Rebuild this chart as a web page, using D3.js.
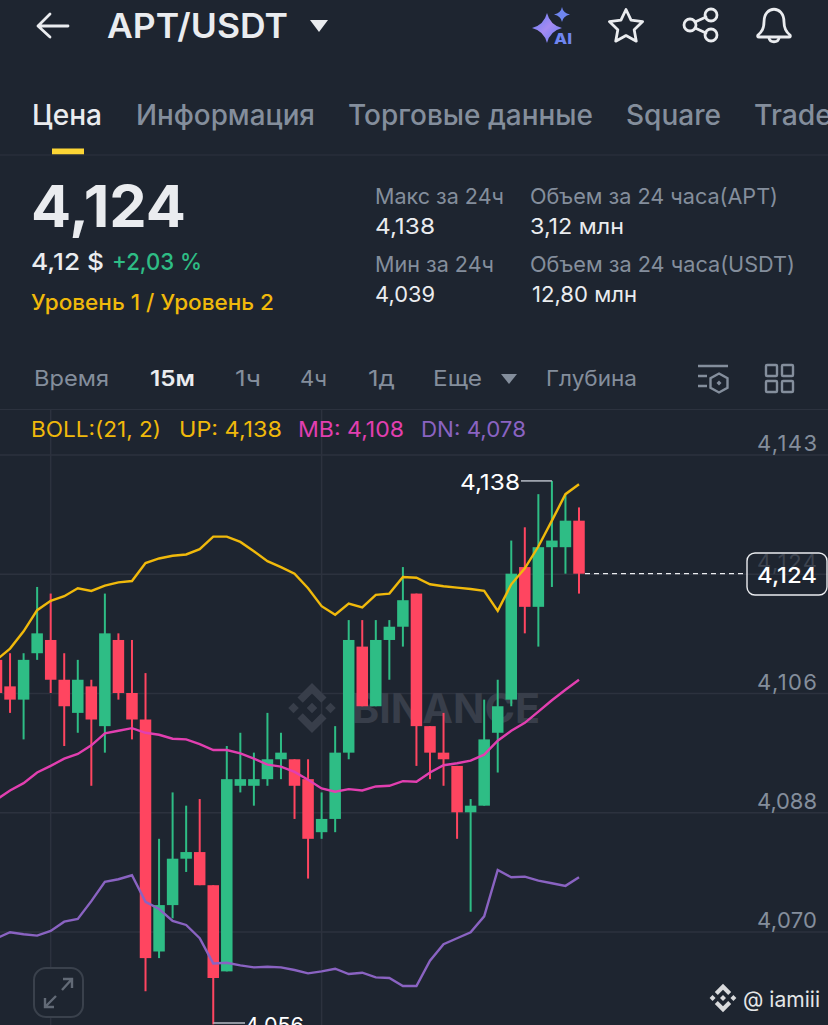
<!DOCTYPE html>
<html>
<head>
<meta charset="utf-8">
<script src="https://cdn.jsdelivr.net/npm/d3@7"></script>
<style>
  html, body { margin: 0; padding: 0; background: #1e2530; overflow: hidden; }
  svg { display: block; font-family: Inter, "Noto Sans", sans-serif; }
</style>
</head>
<body>
<div id="chart"></div>
<script>
// candles, in thousandths
var opens  = [4111,4107,4105,4112,4114,4108,4103,4107,4101,4114,4106,4102,4067,4074,4081,4082,4077,4064,4092,4092,4093,4096,
              4096,4093,4085,4087,4097,4113,4104,4114,4116,4121,4101,4097,4095,4088,4089,4100,4105,4125,4119,4128,4128,4132];
var closes = [4106,4105,4111,4115,4108,4104,4108,4102,4115,4106,4102,4066,4074,4081,4082,4077,4063,4093,4093,4093,4096,4097,
              4092,4084,4087,4097,4114,4104,4114,4116,4120,4101,4097,4096,4088,4089,4099,4104,4124,4119,4128,4129,4132,4124];
var highs  = [4112,4112,4112,4122,4121,4112,4111,4108,4121,4115,4114,4109,4084,4091,4089,4090,4077,4098,4100,4097,4103,4100,
              4096,4096,4091,4101,4117,4117,4117,4117,4125,4121,4101,4103,4095,4090,4105,4108,4129,4131,4136,4138,4136,4134];
var lows   = [4105,4103,4099,4111,4106,4098,4100,4092,4097,4105,4099,4061,4066,4072,4079,4077,4056,4064,4091,4089,4092,4093,
              4087,4078,4084,4085,4096,4104,4104,4108,4113,4095,4093,4092,4084,4073,4089,4094,4104,4115,4113,4122,4124,4121];

// bollinger bands
var bollUp = [4111.0,4112.7,4115.3,4118.5,4119.9,4120.6,4121.8,4121.4,4122.2,4122.7,4122.9,4125.6,4126.3,4126.7,4126.9,4127.7,4129.6,4129.6,4128.8,4127.4,4125.9,4125.0,
              4124.0,4121.8,4119.1,4117.8,4119.5,4118.9,4120.8,4121.0,4123.5,4123.4,4122.4,4122.1,4121.9,4121.7,4121.4,4118.4,4122.4,4124.8,4128.1,4132.0,4136.0,4137.5];
var bollMb = [4089.9,4091.3,4092.4,4094.0,4095.0,4096.1,4096.8,4098.1,4099.9,4100.3,4100.7,4100.0,4099.7,4099.1,4099.0,4098.3,4097.4,4097.4,4096.9,4096.1,4095.2,4094.9,
              4094.1,4092.9,4091.6,4091.1,4091.5,4091.3,4091.9,4092.0,4092.7,4092.6,4094.0,4095.1,4095.4,4095.8,4096.7,4098.8,4100.3,4101.5,4103.2,4104.9,4106.5,4108.0];
var bollDn = [4069.0,4069.9,4069.6,4069.4,4070.1,4071.5,4071.9,4074.6,4077.5,4077.9,4078.5,4074.5,4073.4,4071.6,4071.0,4069.0,4065.2,4065.3,4064.9,4064.6,4064.7,4064.6,
              4064.2,4063.7,4064.0,4064.4,4063.6,4063.8,4063.1,4063.0,4061.8,4061.8,4065.6,4068.1,4069.0,4069.9,4072.3,4079.3,4078.2,4078.3,4077.7,4077.3,4076.9,4078.2];

// price axis
var gridPrices = [4142, 4124, 4106, 4088, 4070];
var gridLabels = ["4,143", "4,124", "4,106", "4,088", "4,070"];
var lastPrice = 4124, lastLabel = "4,124";
var highIndex = 41, highLabel = "4,138";
var lowIndex = 16, lowLabel = "4,056";

var width = 828, height = 1025;
var bg = "#1e2530", gridColor = "#2c323e", grey = "#848e9c", light = "#eaecef",
    yellow = "#f0b90b", green = "#2ebd85", red = "#ff4560", pink = "#e23fb0", purple = "#8a63c2";

var svg = d3.select("#chart").append("svg")
    .attr("width", width)
    .attr("height", height);

var x = d3.scaleLinear().domain([0, opens.length - 1]).range([-3.5, 579]);
var y = d3.scaleLinear().domain([4124, 4088]).range([573.7, 812.3]);
var bodyWidth = 11.5;

// text helper, w forces the width seen in the reference
function label(px, py, str, size, color, weight, w) {
    var t = svg.append("text")
        .attr("x", px).attr("y", py)
        .attr("font-size", size)
        .attr("font-weight", weight || 400)
        .attr("fill", color)
        .text(str);
    if (w) t.attr("textLength", w).attr("lengthAdjust", "spacingAndGlyphs");
    return t;
}

function rule(x1, y1, x2, y2, color, sw) {
    return svg.append("line")
        .attr("x1", x1).attr("y1", y1).attr("x2", x2).attr("y2", y2)
        .attr("stroke", color).attr("stroke-width", sw || 1);
}

// header
var icon = svg.append("g").attr("fill", "none").attr("stroke", light)
    .attr("stroke-width", 2.8).attr("stroke-linecap", "round").attr("stroke-linejoin", "round");
icon.append("path").attr("d", "M68 26H38M50 14L38 26L50 37");
label(107, 38, "APT/USDT", 34, light, 600, 181);
svg.append("path").attr("d", "M310 20H328L319 32Z").attr("fill", light);

// AI icon
var ai = d3.select("svg").append("defs").append("linearGradient").attr("id", "aiGrad")
    .attr("x1", 0).attr("y1", 0).attr("x2", 1).attr("y2", 1);
ai.append("stop").attr("offset", 0).attr("stop-color", "#5f7cf5");
ai.append("stop").attr("offset", 0.5).attr("stop-color", "#a58bf2");
ai.append("stop").attr("offset", 1).attr("stop-color", "#5f7cf5");
svg.append("path").attr("fill", "url(#aiGrad)")
    .attr("d", "M547 13Q550 25 562 28Q550 31 547 43Q544 31 532 28Q544 25 547 13Z");
svg.append("path").attr("fill", "#6f86f0")
    .attr("d", "M562 7Q563 13 570 14.500Q563 16 562 22Q561 16 554 14.500Q561 13 562 7Z");
label(554, 44, "AI", 15, "#6f86f0", 800, 18);

// star, share, bell
var starPts = d3.range(10).map(function(i) {
    var r = i % 2 ? 8.6 : 17.5, a = -Math.PI / 2 + i * Math.PI / 5;
    return [626 + r * Math.cos(a), 27 + r * Math.sin(a)];
});
icon.append("path").attr("d", d3.line()(starPts) + "Z");
icon.append("path").attr("d", "M695 22L706 17M695 28L706 33");
[[690, 25], [711, 15], [711, 35]].forEach(function(c) {
    icon.append("circle").attr("cx", c[0]).attr("cy", c[1]).attr("r", 6);
});
icon.append("path").attr("d", "M764 22C764 5 784 5 784 22C784 29 786 32 790 35Q791 37 789 37H759Q757 37 758 35C762 32 764 29 764 22Z");
icon.append("path").attr("d", "M769 38C770 43 778 43 779 38");

// tabs
label(32, 125, "Цена", 28, light, 500, 70);
label(136, 125, "Информация", 28, grey, 500, 179);
label(348, 125, "Торговые данные", 28, grey, 500, 245);
label(626, 125, "Square", 28, grey, 500, 95);
label(754, 125, "Trade", 28, grey, 500, 78);
svg.append("rect").attr("x", 52).attr("y", 148.5).attr("width", 32).attr("height", 6).attr("fill", "#fcd535");
rule(0, 155, width, 155, gridColor);

// price block
label(31, 227, "4,124", 58, light, 700, 155);
label(31, 270, "4,12 $", 23, light, 500, 73);
label(112, 270, "+2,03 %", 23, green, 500, 90);
label(31, 310, "Уровень 1 / Уровень 2", 22, yellow, 500, 243);
label(375, 204, "Макс за 24ч", 22, grey, 400, 129);
label(375, 234, "4,138", 22, light, 400, 60);
label(375, 272, "Мин за 24ч", 22, grey, 400, 119);
label(375, 302, "4,039", 22, light, 400, 60);
label(530, 204, "Объем за 24 часа(APT)", 22, grey, 400, 248);
label(530, 234, "3,12 млн", 22, light, 400, 94);
label(530, 272, "Объем за 24 часа(USDT)", 22, grey, 400, 265);
label(532, 302, "12,80 млн", 22, light, 400, 105);

// interval row
label(34, 386, "Время", 22, grey, 400, 75);
label(150, 386, "15м", 22, light, 600, 45);
label(235, 386, "1ч", 22, grey, 400, 26);
label(300, 386, "4ч", 22, grey, 400, 27);
label(368, 386, "1д", 22, grey, 400, 27);
label(433, 386, "Еще", 22, grey, 400, 49);
svg.append("path").attr("d", "M501 374H517L509 384Z").attr("fill", grey);
label(546, 386, "Глубина", 22, grey, 400, 91);

var tool = svg.append("g").attr("fill", "none").attr("stroke", grey).attr("stroke-width", 2.4);
tool.append("path").attr("d", "M698 366H728M698 376H707M698 386H707");
tool.append("path").attr("d", "M719 373.500L727.500 378.200V387.800L719 392.500L710.500 387.800V378.200Z");
tool.append("path").attr("d", "M719 380.500L721.500 383L719 385.500L716.500 383Z").attr("fill", grey).attr("stroke", "none");
[[766, 365], [782, 365], [766, 381], [782, 381]].forEach(function(c) {
    tool.append("rect").attr("x", c[0]).attr("y", c[1]).attr("width", 11).attr("height", 11).attr("rx", 1);
});

rule(0, 409.5, width, 409.5, gridColor);

// vertical grid
[4, 24].forEach(function(i) {
    rule(x(i), 410, x(i), height, gridColor, 1.5);
});

// price grid and labels
var yAxis = d3.axisRight(y)
    .tickValues(gridPrices)
    .tickSize(width)
    .tickFormat(function(d, i) { return gridLabels[i]; });
var axisG = svg.append("g").call(yAxis);
axisG.select(".domain").remove();
axisG.selectAll(".tick line").attr("stroke", gridColor).attr("stroke-width", 1.5);
axisG.selectAll(".tick text")
    .attr("x", 817).attr("dy", -4)
    .attr("text-anchor", "end")
    .attr("font-family", "Inter, sans-serif")
    .attr("font-size", 22)
    .attr("textLength", 60)
    .attr("fill", function(d) { return d === lastPrice ? "#3c434f" : grey; });

// legend
label(31, 437, "BOLL:(21, 2)", 21, yellow, 400, 130);
label(179, 437, "UP: 4,138", 21, yellow, 400, 103);
label(298, 437, "MB: 4,108", 21, pink, 400, 106);
label(421, 437, "DN: 4,078", 21, purple, 400, 105);

// watermark
var mark = "#383e4a";
function diamonds(cx, cy, k, color) {
    var g = svg.append("g").attr("fill", color).attr("transform", "translate(" + cx + "," + cy + ") scale(" + k + ")");
    g.append("path").attr("d", "M-5.600 -3.200L0 -8.800L5.600 -3.200L8.800 -6.400L0 -15.200L-8.800 -6.400Z");
    g.append("path").attr("d", "M-5.600 3.200L0 8.800L5.600 3.200L8.800 6.400L0 15.200L-8.800 6.400Z");
    g.append("path").attr("d", "M-3.200 0L0 -3.200L3.200 0L0 3.200Z");
    g.append("path").attr("d", "M-14.400 0L-11.200 -3.200L-8 0L-11.200 3.200Z");
    g.append("path").attr("d", "M14.400 0L11.200 -3.200L8 0L11.200 3.200Z");
}
diamonds(312, 708, 1.65, mark);
label(352, 723, "BINANCE", 41, mark, 700, 188);

// candles
var idx = d3.range(opens.length);
var candle = svg.append("g").selectAll("g")
    .data(idx)
    .enter().append("g")
    .attr("fill", function(i) { return closes[i] >= opens[i] ? green : red; });
candle.append("rect")
    .attr("x", function(i) { return x(i) - 1; })
    .attr("width", 2)
    .attr("y", function(i) { return y(highs[i]); })
    .attr("height", function(i) { return y(lows[i]) - y(highs[i]); });
candle.append("rect")
    .attr("x", function(i) { return x(i) - bodyWidth / 2; })
    .attr("width", bodyWidth)
    .attr("y", function(i) { return y(Math.max(opens[i], closes[i])); })
    .attr("height", function(i) { return Math.abs(y(opens[i]) - y(closes[i])); });

// bands
var bandLine = d3.line()
    .x(function(d, i) { return x(i); })
    .y(function(d) { return y(d); });
[[bollUp, yellow], [bollMb, pink], [bollDn, purple]].forEach(function(b) {
    svg.append("path")
        .attr("d", bandLine(b[0]))
        .attr("fill", "none")
        .attr("stroke", b[1])
        .attr("stroke-width", 2.4);
});

// last price
rule(x(opens.length - 1) + 6, y(lastPrice), 747, y(lastPrice), light, 1.2).attr("stroke-dasharray", "5 4");
svg.append("rect").attr("x", 747).attr("y", 553).attr("width", 80).attr("height", 42).attr("rx", 8)
    .attr("fill", "none").attr("stroke", light).attr("stroke-width", 1.4);
label(757, 583, lastLabel, 22, "#ffffff", 500, 60);

// high and low marks
rule(521, y(highs[highIndex]), x(highIndex), y(highs[highIndex]), "#b7bdc6", 1.5);
label(460, 490, highLabel, 22, "#ffffff", 400, 60);
rule(x(lowIndex), 1023, 245, 1023, "#b7bdc6", 1.5);
label(245, 1033, lowLabel, 22, "#ffffff", 400, 59);

// expand button
svg.append("rect").attr("x", 34).attr("y", 968).attr("width", 49).attr("height", 49).attr("rx", 12)
    .attr("fill", bg).attr("stroke", "#3a414c").attr("stroke-width", 2);
svg.append("path").attr("fill", "none").attr("stroke", "#626a76").attr("stroke-width", 2.4)
    .attr("d", "M45 1007L56 996M45 998V1007H54M62 990L72 979M63 979H72V988");

// footer tag
diamonds(723, 998, 0.93, "#d9dadc");
label(743, 1007, "@ iamiii", 22, "#e4e5e7", 400, 77);
</script>
</body>
</html>
